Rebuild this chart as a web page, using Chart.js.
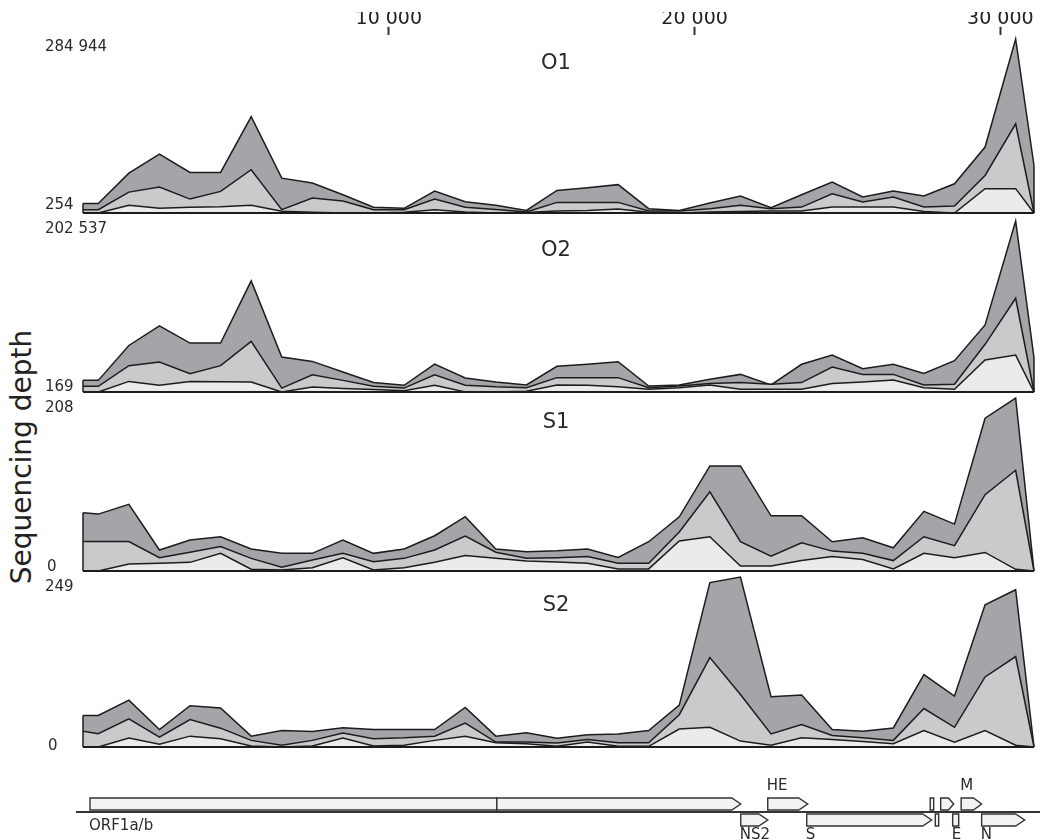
<!DOCTYPE html>
<html>
<head>
<meta charset="utf-8">
<script src="https://cdn.jsdelivr.net/npm/chart.js@4"></script>
<style>
  body{margin:0;background:#fff;width:1053px;height:840px;position:relative;overflow:hidden;font-family:"DejaVu Sans",sans-serif}
  canvas{position:absolute;left:0}
  .ytitle{position:absolute;left:22px;top:457px;transform:translate(-50%,-50%) rotate(-90deg);
    font-size:28px;line-height:1.16;white-space:nowrap;color:#222}
</style>
</head>
<body>
<div class="ytitle">Sequencing depth</div>
<script>
// genome positions of the depth bins (bp)
const positions = [0,500,1500,2500,3500,4500,5500,6500,7500,8500,9500,10500,11500,12500,13500,14500,
  15500,16500,17500,18500,19500,20500,21500,22500,23500,24500,25500,26500,27500,28500,29500,30500,31100];
const genomeLength = 31100;
const xTicks = [10000,20000,30000];

// depth per panel: light / mid / dark layer tops
const o1Range = [254,284944];
const o1Dark  = [15600,15600,65400,96500,66600,66600,158000,57200,49200,30100,9650,7940,36100,18760,13070,4520,37260,41530,46660,7370,4520,16480,28150,9080,30100,50930,26450,36100,28150,48080,108150,284944,77970];
const o1Mid   = [5660,5660,34420,42670,23030,35560,71140,5660,24740,19900,5660,5660,23030,9650,5950,1960,17620,17620,17620,3390,3390,7370,12780,7370,9930,31850,18190,26450,9930,11640,61750,146020,254];
const o1Light = [254,254,12780,7940,9650,10500,12780,3100,1390,254,254,1390,5660,1960,254,1110,3390,4520,6800,1390,254,1960,2530,3390,3390,9930,9930,9930,2530,254,40110,40110,254];

const o2Range = [169,202537];
const o2Dark  = [13930,13930,55210,78490,58050,58050,131710,41450,36390,23850,11500,8060,33160,16760,11910,8470,30520,32950,35990,7250,8470,15140,21010,8470,32950,43880,27690,32950,22230,37200,79500,202537,40640];
const o2Mid   = [6850,6850,31330,35580,21820,31330,60070,4820,20610,13930,6850,4820,20610,8060,6240,5230,17170,17170,17170,5230,7250,10090,11300,9280,11300,29720,21010,21010,8470,9280,56630,111070,169];
const o2Light = [169,169,12720,8060,12720,12310,11910,169,6040,4420,3000,1790,8060,169,169,1180,8470,8060,6440,3410,5230,8470,3410,3410,3410,10090,11910,14330,5230,3410,38010,43880,169];

const s1Range = [0,208];
const s1Dark  = [70.1,68.4,80.1,25.2,37.2,41.2,26.4,21.2,21.2,37.2,21.2,26.4,42.4,65.3,26.4,23.1,24.3,26.4,16.4,35.2,65.1,126.3,126.3,66.4,66.4,35.2,39.9,27.9,71.8,56.4,183.7,208,0];
const s1Mid   = [35.4,35.4,35.4,16.0,22.5,29.3,15.2,4.4,13.3,21.2,11.2,15.2,25.2,42.0,22.5,15.2,16.0,17.3,9.2,9.2,47.0,95.1,35.2,17.9,33.9,23.9,21.2,12.5,41.2,30.4,91.7,121.1,0];
const s1Light = [0,0,8.3,9.2,10.4,21.2,2.1,1.2,4.0,16.0,1.2,4.0,10.4,18.5,15.2,12.1,10.8,9.2,2.5,2.5,36.0,41.2,6.0,6.0,12.5,17.3,13.9,2.5,21.2,16.0,22.3,2.0,0];

const s2Range = [0,249];
const s2Dark  = [46.1,46.1,68.7,25.6,60.5,57.3,15.9,24.2,22.7,28.1,25.6,25.6,25.6,58.0,15.9,20.7,12.9,17.9,19.2,24.2,61.3,240.8,249,73.7,76.2,25.6,23.2,27.9,106.1,74.7,208.2,230.3,0];
const s2Mid   = [23.2,19.4,41.1,14.4,40.1,27.6,9.7,2.5,9.7,20.4,12.2,13.4,15.9,34.9,7.2,7.2,5.7,11.0,6.2,6.2,47.3,131.0,76.9,19.2,32.9,16.9,13.4,9.7,56.3,28.9,102.6,132.5,0];
const s2Light = [0,0,13.2,4.0,15.9,12.2,1.5,0,1.5,13.2,1.5,2.5,9.7,15.9,6.2,4.7,1.0,7.2,1.0,1.0,26.4,28.9,8.7,2.5,13.4,11.0,8.2,4.7,24.2,7.2,24.2,2.5,0];

// genome annotation (bp)
const geneNames  = ['ORF1a/b','','NS2','HE','S','','','','E','M','N'];
const geneStart  = [229,13534,21510,22393,23668,27705,27872,28048,28440,28718,29388];
const geneEnd    = [13534,21510,22393,23700,27754,27820,27983,28473,28637,29388,30794];
const geneStrand = ['up','up','down','up','down','up','down','up','down','up','down'];
const geneArrow  = [false,true,true,true,true,false,false,true,false,true,true];
const geneLabelSide = ['down','','down','up','down','','','','down','up','down'];

const fmt = v => String(v).replace(/\B(?=(\d{3})+(?!\d))/g, ' ');
const FONT = '"DejaVu Sans"';
const PAD = {left:83, right:19};
const layerColors = ['#ebebed','#c9cacc','#a4a5a9'];

function addCanvas(top, height){
  const c = document.createElement('canvas');
  c.width = 1053; c.height = height;
  c.style.top = top + 'px';
  document.body.appendChild(c);
  return c;
}

/* ---- top genome axis ---- */
// canvas taller than needed: chart.js caps a horizontal axis at half the height
// (tick padding is counted twice in the axis height, hence the top padding)
new Chart(addCanvas(0, 80), {
  type:'line',
  data:{datasets:[]},
  options:{
    responsive:false, animation:false,
    layout:{padding:{left:PAD.left, right:PAD.right, top:12, bottom:0}},
    plugins:{legend:{display:false}, tooltip:{enabled:false}},
    scales:{
      x:{type:'linear', position:'top', min:0, max:genomeLength,
        afterBuildTicks: s => { s.ticks = xTicks.map(v => ({value:v})); },
        ticks:{callback:v => fmt(v), color:'#222', font:{family:FONT, size:19}, padding:-4, maxRotation:0, autoSkip:false},
        grid:{drawOnChartArea:false, drawTicks:true, tickLength:8, tickWidth:2, tickColor:'#333'},
        border:{display:false}},
      y:{display:false}
    }
  }
});

/* ---- depth panels ---- */
const panelDecor = {
  id:'panelDecor',
  afterDatasetsDraw(chart, args, o){
    const {ctx, chartArea:a, scales:{y}} = chart;
    const outer = chart.getDatasetMeta(chart.data.datasets.length - 1).data;
    ctx.save();
    ctx.strokeStyle = '#1c1c1c';
    ctx.lineWidth = 1.5;
    [outer[0], outer[outer.length-1]].forEach(pt => {
      ctx.beginPath(); ctx.moveTo(pt.x, a.bottom); ctx.lineTo(pt.x, pt.y); ctx.stroke();
    });
    ctx.lineWidth = 2;
    ctx.beginPath(); ctx.moveTo(a.left, a.bottom); ctx.lineTo(a.right, a.bottom); ctx.stroke();

    ctx.fillStyle = '#2a2a2a';
    ctx.textAlign = 'left'; ctx.textBaseline = 'middle';
    ctx.font = '15px ' + FONT;
    ctx.fillText(fmt(y.max), 45, y.getPixelForValue(y.max) + o.maxDy);
    ctx.fillText(fmt(y.min), o.minX, y.getPixelForValue(y.min) + o.minDy);
    ctx.font = '21px ' + FONT;
    ctx.textAlign = 'center';
    ctx.fillText(o.name, 556, o.titleY);
    ctx.restore();
  }
};

const panels = [
  {name:'O1', range:o1Range, series:[o1Light,o1Mid,o1Dark], top:39,  base:213, titleY:64,  maxDy:8,  minDy:-8, minX:45},
  {name:'O2', range:o2Range, series:[o2Light,o2Mid,o2Dark], top:221, base:392, titleY:251, maxDy:8,  minDy:-5, minX:45},
  {name:'S1', range:s1Range, series:[s1Light,s1Mid,s1Dark], top:398, base:571, titleY:423, maxDy:10, minDy:-4, minX:47},
  {name:'S2', range:s2Range, series:[s2Light,s2Mid,s2Dark], top:577, base:747, titleY:606, maxDy:10, minDy:-1, minX:48}
];

panels.forEach(p => {
  const canvasTop = p.top - 10;
  const canvas = addCanvas(canvasTop, p.base - p.top + 15);
  new Chart(canvas, {
    type:'line',
    data:{
      datasets: p.series.map((vals, i) => ({
        data: positions.map((pos, j) => ({x:pos, y:vals[j]})),
        fill:'start',
        backgroundColor: layerColors[i],
        borderColor:'#1c1c1c',
        borderWidth:1.5,
        pointRadius:0,
        tension:0,
        clip:false
      }))
    },
    options:{
      responsive:false, animation:false,
      layout:{padding:{left:PAD.left, right:PAD.right, top:10, bottom:5}},
      plugins:{legend:{display:false}, tooltip:{enabled:false},
        panelDecor:{name:p.name, titleY:p.titleY - canvasTop, maxDy:p.maxDy, minDy:p.minDy, minX:p.minX}},
      scales:{
        x:{type:'linear', display:false, min:0, max:genomeLength},
        y:{type:'linear', display:false, min:p.range[0], max:p.range[1]}
      }
    },
    plugins:[panelDecor]
  });
});

/* ---- gene track ---- */
const geneTrack = {
  id:'geneTrack',
  afterDraw(chart){
    const {ctx, chartArea:a, scales:{x}} = chart;
    const lineY = 57;
    ctx.save();
    ctx.strokeStyle = '#333';
    ctx.lineWidth = 2;
    ctx.beginPath(); ctx.moveTo(a.left - 7, lineY); ctx.lineTo(a.right + 6, lineY); ctx.stroke();

    ctx.lineWidth = 1.4;
    geneStart.forEach((s, i) => {
      const x0 = x.getPixelForValue(s), x1 = x.getPixelForValue(geneEnd[i]);
      const top = geneStrand[i] === 'up' ? lineY - 14 : lineY + 2;
      const h = 12;
      const head = geneArrow[i] ? Math.min(9, (x1 - x0) * 0.4) : 0;
      ctx.beginPath();
      ctx.moveTo(x0, top);
      ctx.lineTo(x1 - head, top);
      if (head) ctx.lineTo(x1, top + h / 2);
      ctx.lineTo(x1 - head, top + h);
      ctx.lineTo(x0, top + h);
      ctx.closePath();
      ctx.fillStyle = '#f3f3f3';
      ctx.fill(); ctx.stroke();
    });

    ctx.fillStyle = '#2a2a2a';
    ctx.font = '15px ' + FONT;
    ctx.textAlign = 'left'; ctx.textBaseline = 'middle';
    geneNames.forEach((n, i) => {
      if (!n) return;
      const px = x.getPixelForValue(geneStart[i]) - 1;
      let py;
      if (geneLabelSide[i] === 'up') py = 31;
      else py = geneStrand[i] === 'up' ? 71 : 80;
      ctx.fillText(n, px, py);
    });
    ctx.restore();
  }
};

new Chart(addCanvas(755, 85), {
  type:'line',
  data:{datasets:[]},
  options:{
    responsive:false, animation:false,
    layout:{padding:{left:PAD.left, right:PAD.right, top:0, bottom:0}},
    plugins:{legend:{display:false}, tooltip:{enabled:false}},
    scales:{
      x:{type:'linear', display:false, min:0, max:genomeLength},
      y:{display:false}
    }
  },
  plugins:[geneTrack]
});
</script>
</body>
</html>
